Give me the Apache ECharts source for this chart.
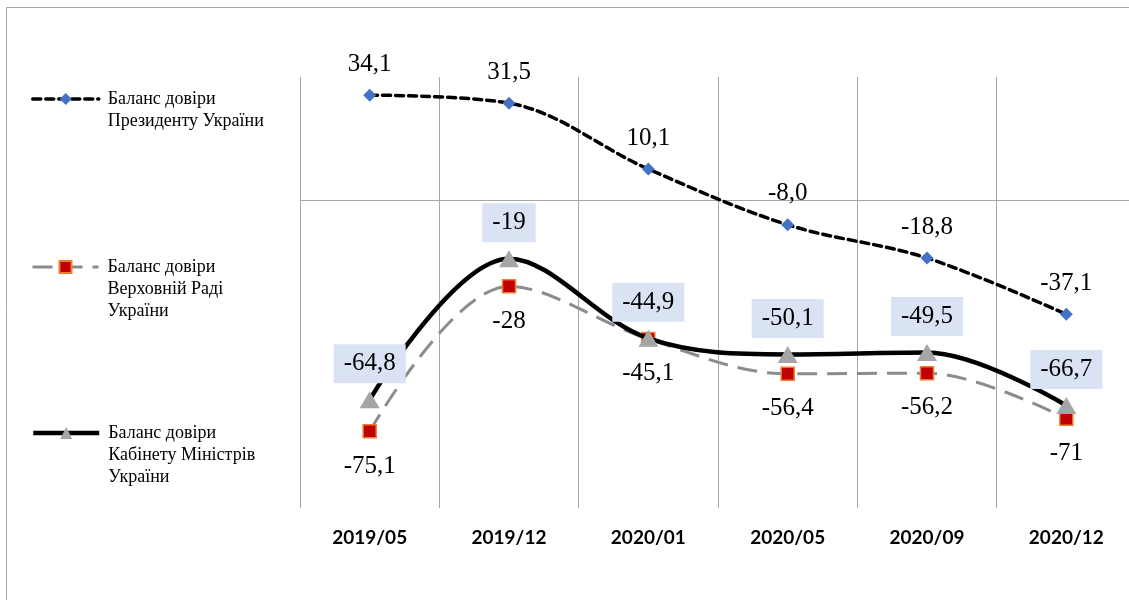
<!DOCTYPE html>
<html>
<head>
<meta charset="utf-8">
<script src="https://cdn.jsdelivr.net/npm/echarts@6/dist/echarts.min.js"></script>
<style>
  html, body { margin: 0; padding: 0; background: #fff; }
  #chart { width: 1129px; height: 600px; }
</style>
</head>
<body>
<div id="chart"></div>
<script>
// periods on the x axis
var categories = ["2019/05", "2019/12", "2020/01", "2020/05", "2020/09", "2020/12"];

// trust balance, %
var presidentData = [34.1, 31.5, 10.1, -8.0, -18.8, -37.1];
var radaData = [-75.1, -28, -45.1, -56.4, -56.2, -71];
var cabinetData = [-64.8, -19, -44.9, -50.1, -49.5, -66.7];

var seriesNames = [
  "Баланс довіри Президенту України",
  "Баланс довіри Верховній Раді України",
  "Баланс довіри Кабінету Міністрів України"
];
// how the legend breaks the names into lines
var legendLines = [
  ["Баланс довіри", "Президенту України"],
  ["Баланс довіри", "Верховній Раді", "України"],
  ["Баланс довіри", "Кабінету Міністрів", "України"]
];

var serif = "'Liberation Serif', 'Times New Roman', serif";
var LH = 22;

function comma(v) {
  return String(v).replace(".", ",");
}

// legend text is centred on the icon, so pad with empty lines on top
// to bring the first line level with the icon
function makeLegend(i, top) {
  var n = legendLines[i].length;
  var pad = new Array(n).join("\n");
  return {
    data: [seriesNames[i]],
    orient: "vertical",
    left: 31,
    top: top,
    padding: 0,
    itemWidth: 66,
    itemHeight: 15,
    selectedMode: false,
    lineStyle: { width: "inherit" },
    formatter: function () {
      return pad + legendLines[i].map(function (s) { return "{t|" + s + "}"; }).join("\n");
    },
    textStyle: {
      fontFamily: serif,
      fontSize: 18,
      color: "#000",
      lineHeight: LH,
      rich: {
        t: { fontFamily: serif, fontSize: 18, color: "#000", lineHeight: LH, padding: [0, 0, 0, 4] }
      }
    }
  };
}

var chart = echarts.init(document.getElementById("chart"));

var option = {
  animation: false,
  backgroundColor: "#fff",
  graphic: [{
    type: "rect",
    shape: { x: 6.5, y: 7.5, width: 1140, height: 620 },
    style: { fill: "none", stroke: "#a6a6a6", lineWidth: 1 },
    silent: true
  }],
  legend: [
    makeLegend(0, 99 - 1.5 * LH),
    makeLegend(1, 267 - 2.5 * LH),
    makeLegend(2, 433 - 2.5 * LH)
  ],
  grid: { left: 300, top: 77, width: 836, height: 431, outerBoundsMode: "none" },
  xAxis: {
    type: "category",
    data: categories,
    boundaryGap: true,
    axisLine: { show: false },
    axisTick: { show: false },
    splitLine: { show: true, lineStyle: { color: "#a6a6a6", width: 1 } },
    axisLabel: {
      margin: 20,
      fontFamily: "Lato, 'Open Sans', sans-serif",
      fontWeight: "bold",
      fontSize: 19,
      color: "#000"
    }
  },
  yAxis: {
    type: "value",
    min: -100,
    max: 40,
    interval: 20,
    axisLine: { show: false },
    axisTick: { show: false },
    axisLabel: { show: false },
    splitLine: { show: false }
  },
  series: [
    {
      name: seriesNames[0],
      type: "line",
      data: presidentData,
      smooth: 0.35,
      symbol: "diamond",
      symbolSize: 13,
      itemStyle: { color: "#4472c4" },
      lineStyle: { color: "#000", width: 3.5, type: [8, 5], cap: "round" },
      label: {
        show: true,
        position: "top",
        distance: 12,
        fontFamily: serif,
        fontSize: 25,
        color: "#000",
        formatter: function (p) { return p.value.toFixed(1).replace(".", ","); }
      },
      markLine: {
        silent: true,
        symbol: ["none", "none"],
        label: { show: false },
        lineStyle: { color: "#a6a6a6", type: "solid", width: 1 },
        data: [{ yAxis: 0 }],
        z: 1
      },
      z: 3
    },
    {
      name: seriesNames[1],
      type: "line",
      data: radaData,
      smooth: 0.35,
      symbol: "rect",
      symbolSize: 13,
      itemStyle: { color: "#c00000", borderColor: "#ed7d31", borderWidth: 1.5 },
      lineStyle: { color: "#8c8c8c", width: 3, type: [20, 10] },
      label: {
        show: true,
        position: "bottom",
        distance: 15,
        fontFamily: serif,
        fontSize: 25,
        color: "#000",
        formatter: function (p) { return comma(p.value); }
      },
      z: 4
    },
    {
      name: seriesNames[2],
      type: "line",
      data: cabinetData,
      smooth: 0.35,
      symbol: "triangle",
      symbolSize: [20, 17],
      itemStyle: { color: "#a5a5a5" },
      lineStyle: { color: "#000", width: 4.5 },
      label: {
        show: true,
        position: "top",
        distance: 8,
        fontFamily: serif,
        fontSize: 25,
        color: "#000",
        backgroundColor: "#dae3f3",
        padding: [7, 10, 7, 10],
        formatter: function (p) { return comma(p.value); }
      },
      z: 5
    }
  ]
};

chart.setOption(option);
</script>
</body>
</html>
